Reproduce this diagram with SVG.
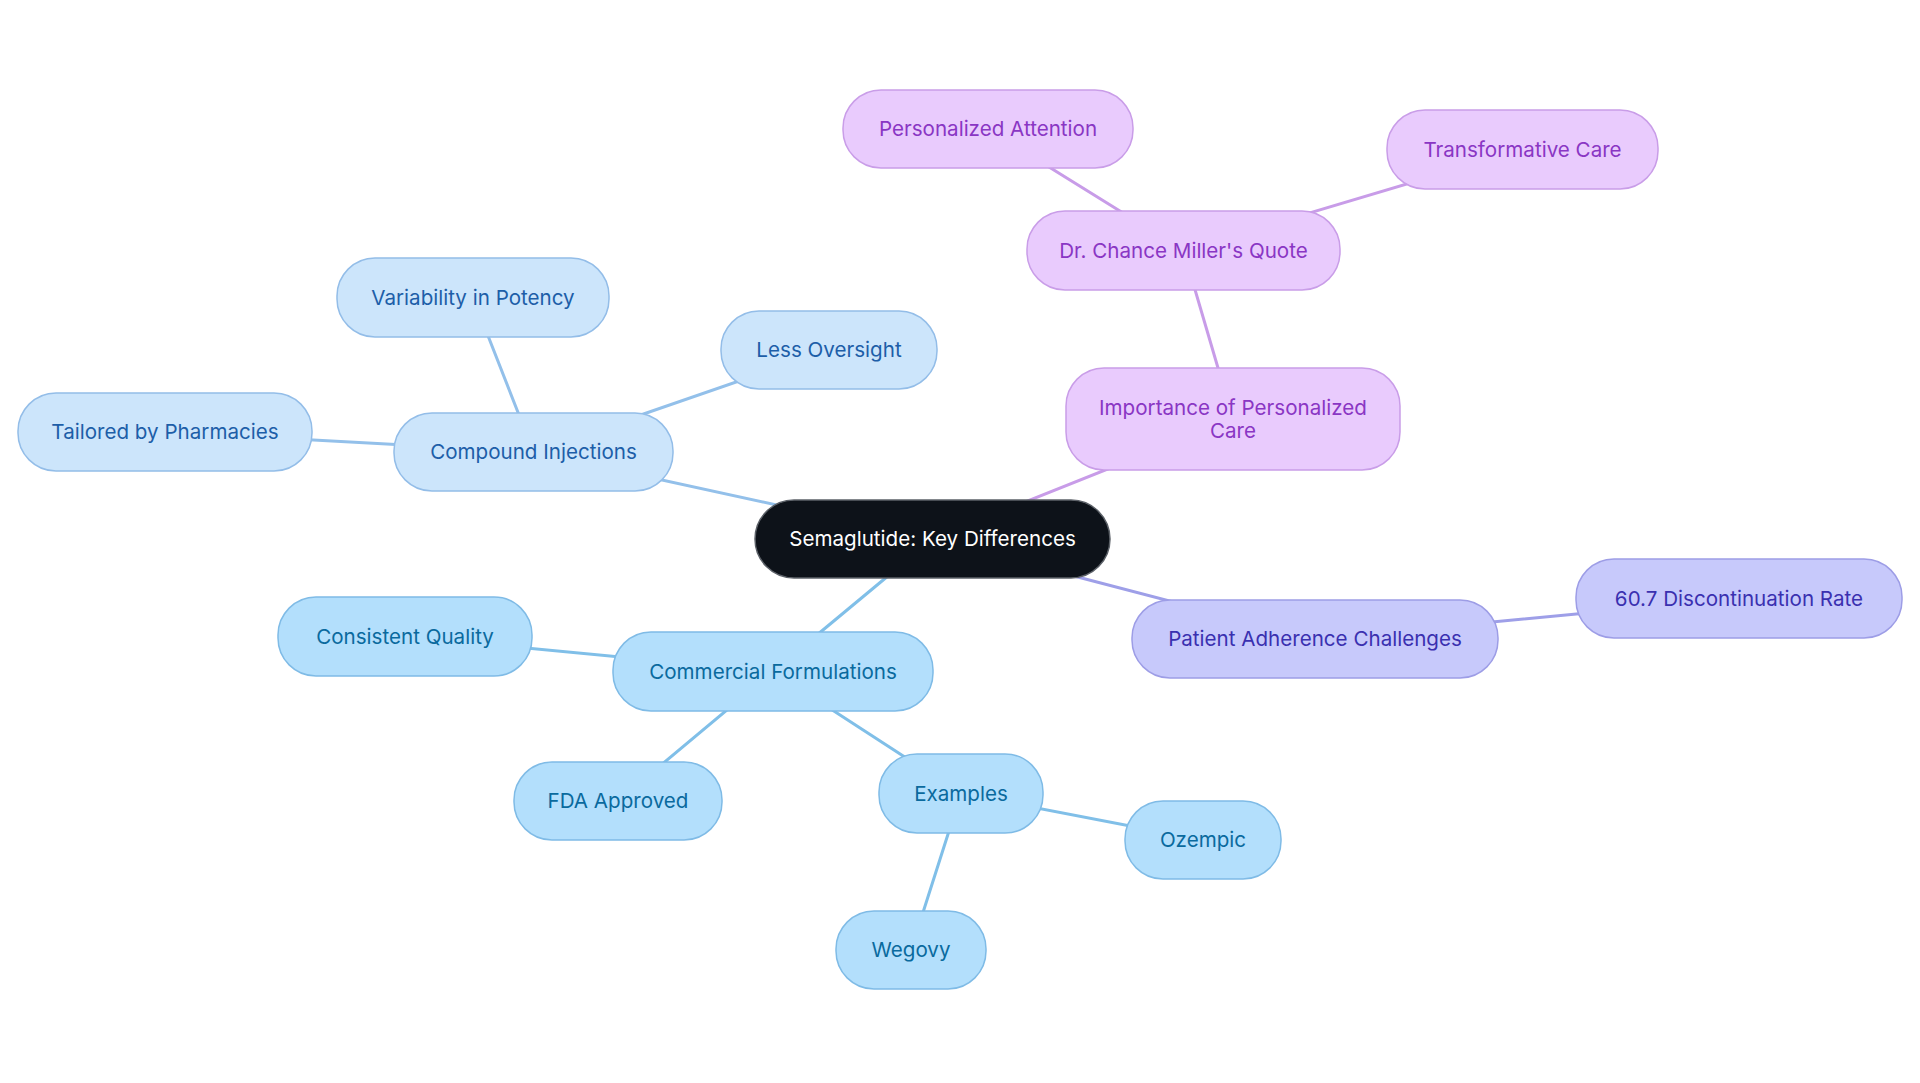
<svg xmlns="http://www.w3.org/2000/svg" width="1920" height="1083" viewBox="0 0 1920 1083">
<style>
  text { font-family: Inter, "Noto Sans", "Liberation Sans", sans-serif; font-size: 20.6px; text-anchor: middle; }
  .e { fill: none; stroke-width: 3; stroke-linecap: round; }
  .eb { stroke: #93c0ea; }
  .ec { stroke: #80bfe8; }
  .ep { stroke: #c89ce8; }
  .ei { stroke: #9e9fe8; }
  .n rect { stroke-width: 1.5; }
  .root rect { fill: #0d1219; stroke: #5c6168; }
  .root text { fill: #ffffff; }
  .b rect { fill: #cce5fb; stroke: #93bde8; }
  .b text { fill: #1d5ea8; }
  .c rect { fill: #b3dffc; stroke: #7fbbe6; }
  .c text { fill: #0a6a9e; }
  .p rect { fill: #e9cbfd; stroke: #c99de8; }
  .p text { fill: #8a36c4; }
  .i rect { fill: #c7c9fb; stroke: #9d9de6; }
  .i text { fill: #3a30b0; }
</style>
<rect width="1920" height="1083" fill="#ffffff"/>
<g id="connectors">
  <line class="e eb" x1="932.5" y1="539" x2="533.5" y2="452"/>
  <line class="e eb" x1="533.5" y1="452" x2="473" y2="297.5"/>
  <line class="e eb" x1="533.5" y1="452" x2="829" y2="350"/>
  <line class="e eb" x1="533.5" y1="452" x2="165" y2="432"/>
  <line class="e ec" x1="932.5" y1="539" x2="773" y2="671.5"/>
  <line class="e ec" x1="773" y1="671.5" x2="405" y2="636.5"/>
  <line class="e ec" x1="773" y1="671.5" x2="618" y2="801"/>
  <line class="e ec" x1="773" y1="671.5" x2="961" y2="793.5"/>
  <line class="e ec" x1="961" y1="793.5" x2="1203" y2="840"/>
  <line class="e ec" x1="961" y1="793.5" x2="911" y2="950"/>
  <line class="e ep" x1="932.5" y1="539" x2="1233" y2="419"/>
  <line class="e ep" x1="1233" y1="419" x2="1183.5" y2="250.5"/>
  <line class="e ep" x1="1183.5" y1="250.5" x2="988" y2="129"/>
  <line class="e ep" x1="1183.5" y1="250.5" x2="1522.5" y2="149.5"/>
  <line class="e ei" x1="932.5" y1="539" x2="1315" y2="639"/>
  <line class="e ei" x1="1315" y1="639" x2="1739" y2="598.5"/>
</g>
<g id="node-root" class="n root">
  <rect x="755" y="500" width="355" height="78" rx="39"/>
  <text x="932.5" y="546">Semaglutide: Key Differences</text>
</g>
<g id="node-compound" class="n b">
  <rect x="394" y="413" width="279" height="78" rx="38"/>
  <text x="533.5" y="459">Compound Injections</text>
</g>
<g id="node-variability" class="n b">
  <rect x="337" y="258" width="272" height="79" rx="38"/>
  <text x="473" y="304.5">Variability in Potency</text>
</g>
<g id="node-less" class="n b">
  <rect x="721" y="311" width="216" height="78" rx="38"/>
  <text x="829" y="357">Less Oversight</text>
</g>
<g id="node-tailored" class="n b">
  <rect x="18" y="393" width="294" height="78" rx="38"/>
  <text x="165" y="439">Tailored by Pharmacies</text>
</g>
<g id="node-commercial" class="n c">
  <rect x="613" y="632" width="320" height="79" rx="38"/>
  <text x="773" y="678.5">Commercial Formulations</text>
</g>
<g id="node-consistent" class="n c">
  <rect x="278" y="597" width="254" height="79" rx="38"/>
  <text x="405" y="643.5">Consistent Quality</text>
</g>
<g id="node-fda" class="n c">
  <rect x="514" y="762" width="208" height="78" rx="38"/>
  <text x="618" y="808">FDA Approved</text>
</g>
<g id="node-examples" class="n c">
  <rect x="879" y="754" width="164" height="79" rx="38"/>
  <text x="961" y="800.5">Examples</text>
</g>
<g id="node-ozempic" class="n c">
  <rect x="1125" y="801" width="156" height="78" rx="38"/>
  <text x="1203" y="847">Ozempic</text>
</g>
<g id="node-wegovy" class="n c">
  <rect x="836" y="911" width="150" height="78" rx="38"/>
  <text x="911" y="957">Wegovy</text>
</g>
<g id="node-importance" class="n p">
  <rect x="1066" y="368" width="334" height="102" rx="38"/>
  <text x="1233" y="414.5">Importance of Personalized</text>
  <text x="1233" y="437.5">Care</text>
</g>
<g id="node-quote" class="n p">
  <rect x="1027" y="211" width="313" height="79" rx="38"/>
  <text x="1183.5" y="257.5">Dr. Chance Miller's Quote</text>
</g>
<g id="node-attention" class="n p">
  <rect x="843" y="90" width="290" height="78" rx="38"/>
  <text x="988" y="136">Personalized Attention</text>
</g>
<g id="node-transformative" class="n p">
  <rect x="1387" y="110" width="271" height="79" rx="38"/>
  <text x="1522.5" y="156.5">Transformative Care</text>
</g>
<g id="node-adherence" class="n i">
  <rect x="1132" y="600" width="366" height="78" rx="38"/>
  <text x="1315" y="646">Patient Adherence Challenges</text>
</g>
<g id="node-rate" class="n i">
  <rect x="1576" y="559" width="326" height="79" rx="38"/>
  <text x="1739" y="605.5">60.7 Discontinuation Rate</text>
</g>
</svg>
